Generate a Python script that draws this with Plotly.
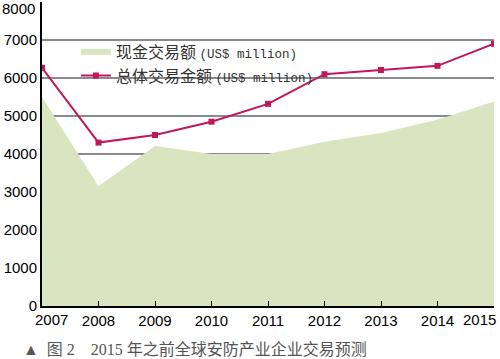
import plotly.graph_objects as go

years = ["2007", "2008", "2009", "2010", "2011", "2012", "2013", "2014", "2015"]
cash_deals = [5500, 3150, 4210, 4000, 4000, 4320, 4550, 4900, 5380]
total_deals = [6270, 4300, 4500, 4850, 5320, 6100, 6210, 6320, 6900]
y_ticks = [0, 1000, 2000, 3000, 4000, 5000, 6000, 7000, 8000]
y_ticktext = ["0", "1000", "2000", "3000", "4000", "5000", "6000", "7000", ""]

xs = list(range(len(years)))
x_ticktext = [""] + years[1:-1] + [""]

tick_font = dict(family="Liberation Sans, Arial", size=15, color="black")

fig = go.Figure()
fig.add_trace(go.Scatter(
    x=xs, y=cash_deals, mode="none", fill="tozeroy",
    fillcolor="#d8e5c0",
    name="现金交易额 <span style='font-family:Liberation Mono;font-size:12.5px'>(US$ million)</span>",
))
fig.add_trace(go.Scatter(
    x=xs, y=total_deals, mode="lines+markers",
    line=dict(color="#c2185b", width=2),
    marker=dict(symbol="square", size=6, color="#c2185b"),
    name="总体交易金额 <span style='font-family:Liberation Mono;font-size:12.5px'>(US$ million)</span>",
))

fig.add_shape(type="line", xref="paper", yref="y", x0=0, x1=1, y0=7000, y1=7000,
              line=dict(color="#222", width=1.5), layer="below")

fig.update_layout(
    width=500, height=359,
    margin=dict(l=42, r=6, t=2, b=53),
    paper_bgcolor="white", plot_bgcolor="white",
    showlegend=True,
    legend=dict(
        x=0.075, y=0.892, xanchor="left", yanchor="top",
        bgcolor="rgba(0,0,0,0)", tracegroupgap=0,
        font=dict(family="Noto Sans CJK SC", size=16, color="#333"),
        itemwidth=30,
    ),
    xaxis=dict(
        range=[0, len(years) - 1], tickmode="array", tickvals=xs, ticktext=x_ticktext,
        showgrid=False, showline=True, linecolor="black", linewidth=2,
        ticks="inside", ticklen=5, tickcolor="black", tickwidth=1,
        tickfont=tick_font, zeroline=False, fixedrange=True,
    ),
    yaxis=dict(
        range=[0, 8000], tickmode="array", tickvals=y_ticks, ticktext=y_ticktext,
        showgrid=True, gridcolor="#8a8a8a", gridwidth=1.5,
        showline=True, linecolor="black", linewidth=2,
        ticks="", tickfont=tick_font, zeroline=False, fixedrange=True,
    ),
    annotations=[
        dict(text=years[0], xref="x", yref="paper", x=xs[0], y=0, xanchor="center", yanchor="top",
             xshift=9, yshift=-3, showarrow=False, font=tick_font),
        dict(text=years[-1], xref="x", yref="paper", x=xs[-1], y=0, xanchor="right", yanchor="top",
             xshift=4, yshift=-3, showarrow=False, font=tick_font),
        dict(text=str(y_ticks[-1]), xref="paper", yref="y", x=0, y=y_ticks[-1], xanchor="right", yanchor="middle",
             xshift=-5, yshift=-6, showarrow=False, font=tick_font),
        dict(
            text="▲  图 2    2015 年之前全球安防产业企业交易预测",
            xref="paper", yref="paper", x=-0.046, y=-0.11, xanchor="left", yanchor="top",
            showarrow=False,
            font=dict(family="Liberation Serif, Noto Sans CJK SC", size=16, color="#555"),
        ),
    ],
)

fig.write_html("out.html", config={"displayModeBar": False},
               post_script="document.body.style.margin='0';document.body.style.overflow='hidden';")
